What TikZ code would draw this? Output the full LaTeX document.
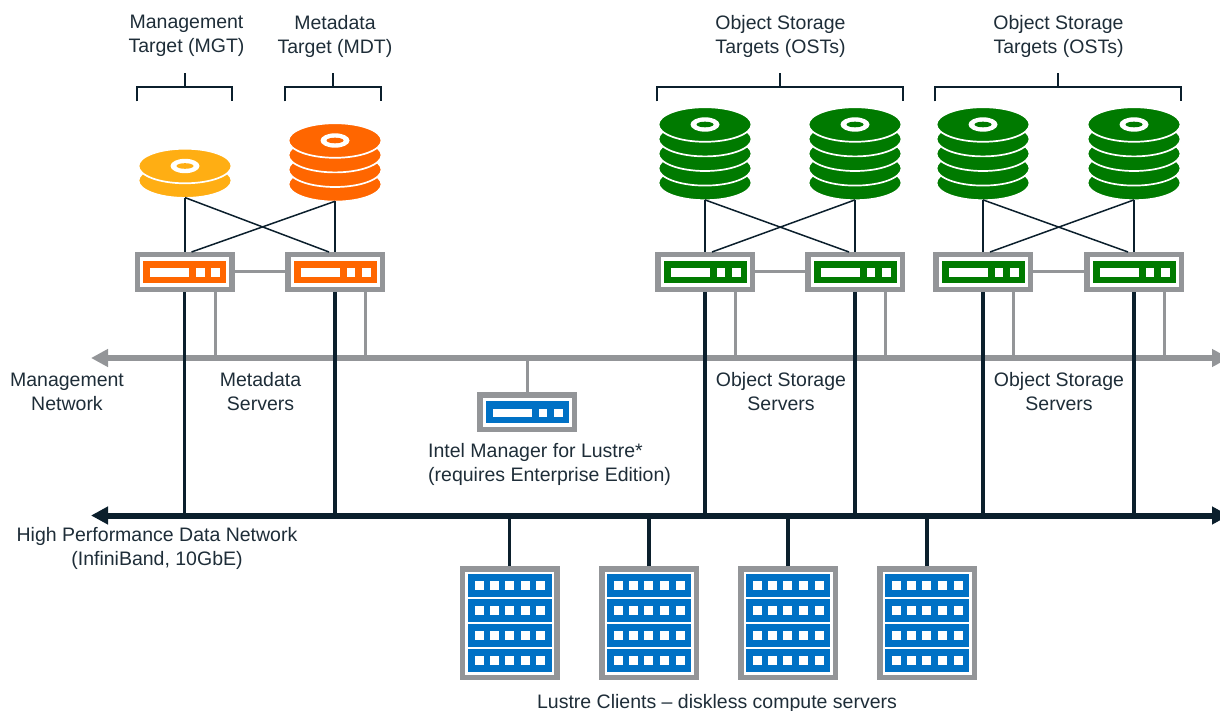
\documentclass[tikz,border=0pt]{standalone}
\usepackage{fontspec}
\setmainfont{Liberation Sans}
\usetikzlibrary{arrows.meta}
\definecolor{cgrey}{HTML}{939598}
\definecolor{cdark}{HTML}{0B1F2C}
\definecolor{ctext}{HTML}{1E2D38}
\definecolor{cblue}{HTML}{0071C5}
\definecolor{cgreen}{HTML}{007A00}
\definecolor{corange}{HTML}{FF6600}
\definecolor{cyellow}{HTML}{FFAE13}
\tikzset{
  label text/.style={font=\fontsize{19.5}{24}\selectfont, text=ctext, align=center, inner sep=0pt},
  srvbox/.style={fill=cgrey, draw=none, minimum width=100pt, minimum height=40pt, inner sep=0pt, outer sep=0pt, rectangle},
  clientbox/.style={fill=cgrey, draw=none, minimum width=100pt, minimum height=114pt, inner sep=0pt, outer sep=0pt, rectangle},
  disknode/.style={circle, minimum size=2pt, inner sep=0pt, outer sep=0pt},
  graynet/.style={draw=cgrey, line width=5.5pt, {Triangle[length=17pt,width=17pt]}-{Triangle[length=17pt,width=17pt]}},
  datanet/.style={draw=cdark, line width=6pt, {Triangle[length=17pt,width=17pt]}-{Triangle[length=17pt,width=17pt]}},
  graylink/.style={draw=cgrey, line width=3pt},
  datalink/.style={draw=cdark, line width=3.5pt},
  thinlink/.style={draw=cdark, line width=1.5pt},
  bracketline/.style={draw=cdark, line width=1.5pt},
}
% server: name, cx, cy, colour
\newcommand{\mysrv}[4]{%
  \node[srvbox] (#1) at (#2,#3) {};
  \begin{scope}[shift={(#2,#3)}]
    \fill[white] (-44.5,-14.5) rectangle (44.5,14.5);
    \fill[#4] (-41.5,-11) rectangle (41.5,11);
    \fill[white] (-34.5,-3.5) rectangle (4.5,4.5);
    \fill[white] (11.5,-3.5) rectangle (20,4.5);
    \fill[white] (26.5,-3.5) rectangle (35.5,4.5);
  \end{scope}}
% client rack: name, cx
\newcommand{\myrack}[2]{%
  \node[clientbox] (#1) at (#2,623) {};
  \begin{scope}[shift={(#2,623)}]
    \fill[white] (-44.5,-51.5) rectangle (44.5,51.5);
    \foreach \ry in {-37.5,-12.5,12.5,37.5}{
      \fill[cblue] (-42,\ry-11.5) rectangle (42,\ry+11.5);
      \foreach \rx in {-30.5,-15.5,-0.5,15.5,31}{
        \fill[white] (\rx-4.5,\ry-4.5) rectangle (\rx+4.5,\ry+4.5);
      }
    }
  \end{scope}}
% disk stack: name, cx, top disk cy, extra layers, colour
\newcommand{\mystack}[5]{%
  \foreach \k in {#4,...,1}{
    \fill[#5, draw=white, line width=1.7pt] (#2,#3+14.6*\k) ellipse [x radius=46.5, y radius=17.3];
  }
  \fill[#5, draw=white, line width=1.7pt] (#2,#3) ellipse [x radius=46.5, y radius=17.3];
  \fill[white] (#2,#3) ellipse [x radius=14.5, y radius=7.2];
  \fill[#5] (#2,#3) ellipse [x radius=8.5, y radius=2.8];
  \node[disknode] (#1) at (#2,#3+14.6*#4+17) {};}
% bracket: name, left, right, stem x
\newcommand{\mybrack}[4]{%
  \coordinate (#1a) at (#2,101.5);
  \coordinate (#1b) at (#3,101.5);
  \coordinate (#1c) at (#4,87);
  \coordinate (#1d) at (#4,73);
  \draw[bracketline] (#1a) -- (#1a |- #1c) -- (#1b |- #1c) -- (#1b);
  \draw[bracketline] (#1c) -- (#1d);}
\begin{document}
\begin{tikzpicture}[x=1pt,y=-1pt]
\useasboundingbox (0,0) rectangle (1220,711);
\clip (0,0) rectangle (1220,711);

% networks ends
\coordinate (mgL) at (91,358);
\coordinate (mgR) at (1229,358);
\coordinate (daL) at (91,515.5);
\coordinate (daR) at (1229,515.5);

% disks
\mystack{dA}{185}{166}{1}{cyellow}
\mystack{dB}{335}{140.5}{3}{corange}
\mystack{dC}{705}{124.5}{4}{cgreen}
\mystack{dD}{855}{124.5}{4}{cgreen}
\mystack{dE}{983}{124.5}{4}{cgreen}
\mystack{dF}{1134}{124.5}{4}{cgreen}

% servers
\mysrv{sA}{184.5}{272}{corange}
\mysrv{sB}{335}{272}{corange}
\mysrv{sC}{705}{272}{cgreen}
\mysrv{sD}{855}{272}{cgreen}
\mysrv{sE}{983}{272}{cgreen}
\mysrv{sF}{1134}{272}{cgreen}
\mysrv{sM}{527}{412}{cblue}

% disk to server cross links
\foreach \da/\db/\sa/\sb in {dA/dB/sA/sB,dC/dD/sC/sD,dE/dF/sE/sF}{
  \draw[thinlink] (\da.center) -- (\da.center |- \sa.north);
  \draw[thinlink] (\db.center) -- (\db.center |- \sb.north);
  \draw[thinlink] (\da.center) -- ([xshift=-6pt]\sb.north);
  \draw[thinlink] (\db.center) -- ([xshift=7pt]\sa.north);
}

% server pair links
\foreach \a/\b in {sA/sB,sC/sD,sE/sF}{
  \draw[graylink] (\a.east) -- (\b.west);
}

% management network
\foreach \s in {sA,sB,sC,sD,sE,sF}{
  \coordinate (\s g) at ([xshift=30.5pt]\s.south);
  \draw[graylink] (\s g) -- (\s g |- mgL);
}
\draw[graylink] (sM.north) -- (sM.north |- mgL);
\draw[graynet] (mgL) -- (mgR);

% clients
\myrack{cA}{509.5}
\myrack{cB}{649}
\myrack{cC}{788}
\myrack{cD}{927}

% data network
\foreach \s in {sA,sB,sC,sD,sE,sF}{
  \draw[datalink] (\s.south) -- (\s.south |- daL);
}
\foreach \c in {cA,cB,cC,cD}{
  \draw[datalink] (\c.north) -- (\c.north |- daL);
}
\draw[datanet] (daL) -- (daR);

% brackets
\mybrack{bA}{137}{232}{185}
\mybrack{bB}{285}{381}{333}
\mybrack{bC}{657}{903}{780}
\mybrack{bD}{935}{1181}{1058}

% labels
\node[label text] (t1) at (186.5,36) {Management\\Target (MGT)};
\node[label text] (t2) at (335,36) {Metadata\\Target (MDT)};
\node[label text] (t3) at (780.5,36) {Object Storage\\Targets (OSTs)};
\node[label text] (t4) at (1058.5,36) {Object Storage\\Targets (OSTs)};
\node[label text] (t5) at (67,392) {Management\\Network};
\node[label text] (t6) at (260.5,392) {Metadata\\Servers};
\node[label text] (t7) at (781,392) {Object Storage\\Servers};
\node[label text] (t8) at (1059,392) {Object Storage\\Servers};
\node[label text, align=left, anchor=west] (t9) at (428,464) {Intel Manager for Lustre*\\(requires Enterprise Edition)};
\node[label text] (t10) at (157,548) {High Performance Data Network\\(InfiniBand, 10GbE)};
\node[label text] (t11) at (717,703) {Lustre Clients – diskless compute servers};
\end{tikzpicture}
\end{document}
